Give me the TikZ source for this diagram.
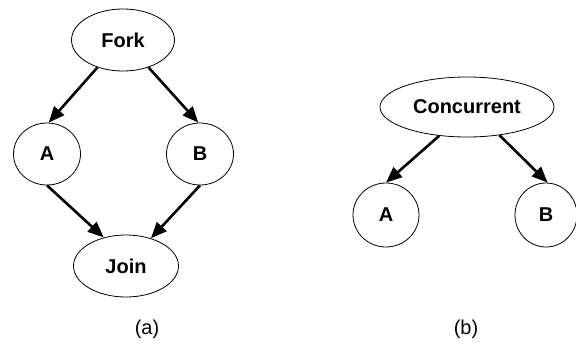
\documentclass[tikz,border=0pt]{standalone}
\usepackage{fontspec}
\setmainfont{Liberation Sans}
\usetikzlibrary{arrows.meta,shapes.geometric}
\begin{document}
\begin{tikzpicture}[x=1pt,y=-1pt,
  task/.style={ellipse,draw=black,line width=0.8pt,inner sep=0pt,
    minimum width=#1,font=\fontsize{20pt}{22pt}\selectfont\bfseries},
  task/.default=66pt,
  flow/.style={line width=2.6pt,-{Triangle[length=16pt,width=13pt]}},
  caption/.style={font=\fontsize{20pt}{22pt}\selectfont}]
  \useasboundingbox (0,0) rectangle (576,356);
  % (a) fork / join
  \node[task=103pt,minimum height=62pt] (fork) at (123,40) {Fork};
  \node[task=67pt,minimum height=62pt] (a1) at (47,154) {A};
  \node[task=67pt,minimum height=62pt] (b1) at (200,154) {B};
  \node[task=105pt,minimum height=62pt] (join) at (126,266) {Join};
  \draw[flow] (fork.-133) -- (a1.87);
  \draw[flow] (fork.-47) -- (b1.93);
  \draw[flow] (a1.-90) -- (join.128);
  \draw[flow] (b1.-90) -- (join.48);
  % (b) concurrent
  \node[task=174pt,minimum height=60pt] (conc) at (467,107) {Concurrent};
  \node[task=66pt,minimum height=64pt] (a2) at (386,215) {A};
  \node[task=62pt,minimum height=64pt] (b2) at (546,215) {B};
  \draw[flow] (conc.-134) -- (a2.90);
  \draw[flow] (conc.-41) -- (b2.87);
  % captions
  \node[caption] (capa) at (147,329) {(a)};
  \node[caption] (capb) at (466,329) {(b)};
\end{tikzpicture}
\end{document}
